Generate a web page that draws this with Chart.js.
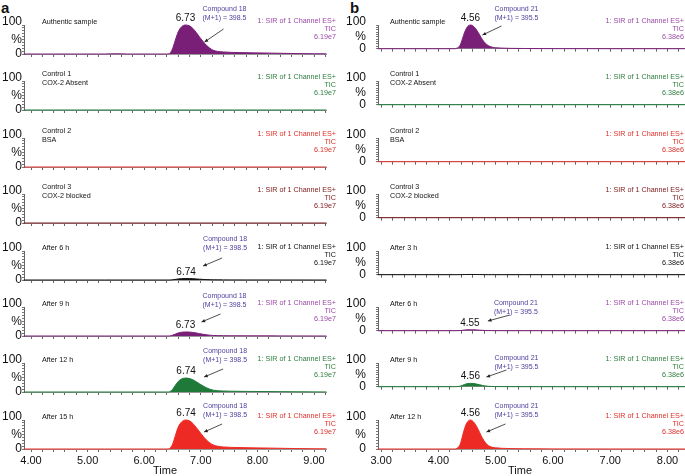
<!DOCTYPE html>
<html>
<head>
<meta charset="utf-8">
<script src="https://cdn.jsdelivr.net/npm/chart.js@4.4.1/dist/chart.umd.min.js"></script>
<style>
  html, body { margin: 0; padding: 0; background: #fff; }
  body { position: relative; width: 685px; height: 476px; overflow: hidden; font-family: "Liberation Sans", Arial, sans-serif; }
  canvas { position: absolute; }
  .t { position: absolute; white-space: nowrap; font-size: 7.2px; line-height: 9px; color: #111; }
  .r { text-align: right; line-height: 8px; }
  .c { text-align: center; transform: translateX(-50%); color: #4b3f9c; font-size: 7px; }
  .pk { position: absolute; white-space: nowrap; font-size: 10px; line-height: 10px; color: #111; transform: translateX(-50%); }
  .ttl { position: absolute; white-space: nowrap; font-size: 11px; line-height: 12px; color: #111; transform: translateX(-50%); }
  .panel { position: absolute; font-weight: bold; font-size: 15px; line-height: 15px; color: #111; }
</style>
</head>
<body>
<div class="panel" style="left:1px;top:0px">a</div>
<div class="panel" style="left:350px;top:0px">b</div>
<script>
// ---- labels ----
const rowNamesA = [['Authentic sample'], ['Control 1', 'COX-2 Absent'], ['Control 2', 'BSA'], ['Control 3', 'COX-2 blocked'],
  ['After 6 h'], ['After 9 h'], ['After 12 h'], ['After 15 h']];
const rowNamesB = [['Authentic sample'], ['Control 1', 'COX-2 Absent'], ['Control 2', 'BSA'], ['Control 3', 'COX-2 blocked'],
  ['After 3 h'], ['After 6 h'], ['After 9 h'], ['After 12 h']];
const channelLines = ['1: SIR of 1 Channel ES+', 'TIC'];
const scaleA = '6.19e7';
const scaleB = '6.38e6';
const compoundA = ['Compound 18', '(M+1) = 398.5'];
const compoundB = ['Compound 21', '(M+1) = 395.5'];
const xTitle = 'Time';
const xTickValuesA = [4, 5, 6, 7, 8, 9];
const xTickValuesB = [3, 4, 5, 6, 7, 8];
const yTickValues = [0, 50, 100];
const yTickLabels = ['0', '%', '100'];
const peakTimeA = [6.73, null, null, null, 6.74, 6.73, 6.74, 6.74];
const peakTimeB = [4.56, null, null, null, null, 4.55, 4.56, 4.56];

// ---- traces, panel a (time in min, intensity in %) ----
const timeA = [3.87, 5.30, 5.50, 5.70, 6.40, 6.45, 6.50, 6.55, 6.60, 6.66, 6.73, 6.80, 6.86, 6.92, 6.98, 7.04,
  7.10, 7.16, 7.22, 7.30, 7.40, 7.55, 7.80, 8.10, 8.40, 8.70, 9.00, 9.22];
const flatTimeA = [3.87, 9.22];
const authenticA = [0, 0, 0.8, 0, 0, 2, 18, 48, 76, 94, 100, 97, 88, 74, 58, 43, 30, 20, 13, 9, 7, 5.5, 4.5, 3.5, 2.5, 1.5, 0.8, 0.5];
const control1A = [0, 0];
const control2A = [0, 0];
const control3A = [0, 0];
const after6hA = [0, 0, 0, 0, 0, 0.1, 0.8, 2.2, 3.6, 4.6, 5, 4.8, 4.3, 3.6, 2.8, 2.1, 1.5, 1, 0.7, 0.5, 0.4, 0.3, 0.2, 0.2, 0.1, 0.1, 0, 0];
const after9hA = [0, 0, 0, 0, 0, 0.3, 2.5, 6.5, 10.5, 13, 14, 13.6, 12.3, 10.4, 8.1, 6, 4.2, 2.8, 1.8, 1.3, 1, 0.8, 0.6, 0.5, 0.3, 0.2, 0.1, 0];
const after12hA = [0, 0, 0, 0, 0, 1, 9, 23, 36, 45, 48, 46.5, 42, 35.5, 28, 21, 14.5, 9.6, 6.3, 4.3, 3.4, 2.6, 2.1, 1.6, 1.2, 0.7, 0.4, 0.2];
const after15hA = [0, 0, 0, 0, 0, 2, 16, 46, 75, 93, 100, 97, 88, 74, 59, 44, 31, 21, 14, 9.5, 7, 5.5, 4.5, 3.5, 2.5, 1.5, 0.8, 0.5];

// ---- traces, panel b ----
const timeB = [2.94, 4.28, 4.33, 4.38, 4.42, 4.46, 4.50, 4.56, 4.62, 4.67, 4.72, 4.77, 4.82, 4.87, 4.93, 5.00,
  5.10, 5.25, 5.50, 6.00, 7.00, 8.31];
const flatTimeB = [2.94, 8.31];
const authenticB = [0, 0, 3, 15, 42, 70, 90, 100, 93, 78, 58, 38, 23, 13, 7, 4, 2.5, 1.5, 0.8, 0.3, 0.1, 0];
const control1B = [0, 0];
const control2B = [0, 0];
const control3B = [0, 0];
const after3hB = [0, 0, 0, 0.2, 0.4, 0.7, 0.9, 1, 0.9, 0.8, 0.6, 0.4, 0.2, 0.1, 0.1, 0, 0, 0, 0, 0, 0, 0];
const after6hB = [0, 0, 0.1, 0.6, 1.7, 2.8, 3.6, 4, 3.7, 3.1, 2.3, 1.5, 0.9, 0.5, 0.3, 0.2, 0.1, 0, 0, 0, 0, 0];
const after9hB = [0, 0, 0.4, 2.1, 5.9, 9.8, 12.6, 14, 13, 10.9, 8.1, 5.3, 3.2, 1.8, 1, 0.6, 0.4, 0.2, 0.1, 0, 0, 0];
const after12hB = [0, 0, 3, 16, 44, 72, 91, 100, 92, 77, 57, 37, 22, 12, 6.5, 4, 2.5, 1.5, 0.8, 0.3, 0.1, 0];

// ---- styling ----
const traceColors = ['#7a1f78', '#1f7a3a', '#e0302a', '#7c1818', '#111111', '#7a1f78', '#1f7a3a', '#ee2a24'];
const textColors = ['#9a4aa6', '#2e7d3e', '#e0302a', '#7c1818', '#111111', '#9a4aa6', '#2e7d3e', '#e0302a'];

const ROW_BASE = 54, ROW_STEP = 56.4, PLOT_H = 29, CANVAS_TOP = 48, CANVAS_H = 56, PAGE_H = 476;

const panels = [
  { left: 0, width: 340, axisX: 24, axisEnd: 326, min: 3.876, max: 9.212, labelPad: 0,
    names: rowNamesA, scale: scaleA, compound: compoundA, ticks: xTickValuesA, peaks: peakTimeA,
    times: [timeA, flatTimeA, flatTimeA, flatTimeA, timeA, timeA, timeA, timeA],
    values: [authenticA, control1A, control2A, control3A, after6hA, after9hA, after12hA, after15hA],
    nameX: 42, rightX: 336, compDx: 39, titleX: 165,
    arrows: [[38, 4, 19, 17], null, null, null, [36, 7, 17, 15], [35, 7, 16, 15], [37, 6, 18, 14], [36, 4, 18, 12]],
    compY: [-17, 0, 0, 0, -13, -12, -13, -15] },
  { left: 340, width: 345, axisX: 378, axisEnd: 677, min: 2.946, max: 8.305, labelPad: 10,
    names: rowNamesB, scale: scaleB, compound: compoundB, ticks: xTickValuesB, peaks: peakTimeB,
    times: [timeB, flatTimeB, flatTimeB, flatTimeB, timeB, timeB, timeB, timeB],
    values: [authenticB, control1B, control2B, control3B, after3hB, after6hB, after9hB, after12hB],
    nameX: 390, rightX: 684, compDx: 46, titleX: 520,
    arrows: [[31, 1, 12, 10], null, null, null, null, [40, 8, 18, 14], [36, 7, 16, 14], [35, 4, 16, 12]],
    compY: [-17, 0, 0, 0, 0, -5, -6, -15] }
];

Chart.defaults.font.family = '"Liberation Sans", Arial, sans-serif';
Chart.defaults.color = '#111';
Chart.defaults.animation = false;

function addText(lines, cls, style) {
  const d = document.createElement('div');
  d.className = 't ' + cls;
  d.innerHTML = lines.join('<br>');
  Object.assign(d.style, style);
  document.body.appendChild(d);
  return d;
}

function drawRow(p, i) {
  const last = i === 7;
  const base = Math.round(ROW_BASE + ROW_STEP * i);
  const top = base - CANVAS_TOP;
  const h = last ? PAGE_H - top : CANVAS_H;
  const canvas = document.createElement('canvas');
  canvas.width = p.width; canvas.height = h;
  canvas.style.left = p.left + 'px'; canvas.style.top = top + 'px';
  canvas.style.width = p.width + 'px'; canvas.style.height = h + 'px';
  document.body.appendChild(canvas);

  const pts = p.times[i].map((t, k) => ({ x: t, y: p.values[i][k] }));
  const color = traceColors[i];
  const peak = p.peaks[i];
  const arrow = p.arrows[i];

  const arrowPlugin = {
    id: 'arrow' + i,
    afterDatasetsDraw(chart) {
      if (!arrow) return;
      const ctx = chart.ctx;
      const px = chart.scales.x.getPixelForValue(peak);
      const T = chart.scales.y.getPixelForValue(100);
      const x1 = px + arrow[0], y1 = T + arrow[1], x2 = px + arrow[2], y2 = T + arrow[3];
      const ang = Math.atan2(y2 - y1, x2 - x1);
      ctx.save();
      ctx.strokeStyle = '#222'; ctx.fillStyle = '#222'; ctx.lineWidth = 0.8;
      ctx.beginPath(); ctx.moveTo(x1, y1); ctx.lineTo(x2, y2); ctx.stroke();
      ctx.beginPath();
      ctx.moveTo(x2, y2);
      ctx.lineTo(x2 - 4 * Math.cos(ang - 0.45), y2 - 4 * Math.sin(ang - 0.45));
      ctx.lineTo(x2 - 4 * Math.cos(ang + 0.45), y2 - 4 * Math.sin(ang + 0.45));
      ctx.closePath(); ctx.fill();
      ctx.restore();
    }
  };

  const chart = new Chart(canvas, {
    type: 'line',
    data: { datasets: [{
      data: pts, borderColor: color, backgroundColor: color, borderWidth: 1,
      fill: 'origin', pointRadius: 0, cubicInterpolationMode: 'monotone', clip: 2
    }] },
    options: {
      responsive: false,
      layout: { padding: { top: CANVAS_TOP - PLOT_H, right: p.width - p.axisEnd, left: 0, bottom: 0 } },
      plugins: { legend: { display: false }, tooltip: { enabled: false } },
      scales: {
        x: {
          type: 'linear', min: p.min, max: p.max,
          afterBuildTicks: s => {
            const out = [];
            for (let v = Math.ceil(p.min * 5) / 5; v <= p.max + 1e-9; v += 0.2) out.push({ value: Math.round(v * 10) / 10 });
            s.ticks = out;
          },
          afterFit: s => { s.height = h - CANVAS_TOP; },
          ticks: {
            autoSkip: false, maxRotation: 0, padding: 2, font: { size: 11 },
            callback: v => (last && p.ticks.includes(v)) ? v.toFixed(2) : ''
          },
          grid: { drawOnChartArea: false, tickLength: 3, color: '#666' },
          border: { color: '#999' }
        },
        y: {
          min: 0, max: 100,
          afterBuildTicks: s => {
            const out = [];
            for (let v = 0; v <= 100; v += 10) out.push({ value: v });
            s.ticks = out;
          },
          afterFit: s => { s.width = p.axisX - p.left; },
          ticks: {
            autoSkip: false, padding: p.labelPad, font: { size: 12, lineHeight: 0.55 },
            // the top label sits a little above its tick, as in the original plot
            callback: v => { const k = yTickValues.indexOf(v); return k < 0 ? '' : (v === 100 ? [yTickLabels[k], ''] : yTickLabels[k]); }
          },
          grid: { drawOnChartArea: false, tickLength: 2, color: '#777' },
          border: { color: '#666' }
        }
      }
    },
    plugins: [arrowPlugin]
  });

  // texts
  const T = base - PLOT_H;
  const names = p.names[i];
  addText(names, '', { left: p.nameX + 'px', top: (names.length > 1 ? T - 12 : T - 8) + 'px' });
  addText([channelLines[0], channelLines[1], p.scale], 'r', {
    right: (685 - p.rightX) + 'px', top: (T - 8) + 'px', color: textColors[i]
  });

  if (peak != null) {
    const px = p.left + chart.scales.x.getPixelForValue(peak);
    const py = top + chart.scales.y.getPixelForValue(Math.max(...p.values[i]));
    const pk = document.createElement('div');
    pk.className = 'pk';
    pk.textContent = peak.toFixed(2);
    pk.style.left = px + 'px';
    pk.style.top = (py - 12) + 'px';
    document.body.appendChild(pk);
    if (arrow) {
      addText(p.compound, 'c', { left: (px + p.compDx) + 'px', top: (T + p.compY[i] - 4.5) + 'px' });
    }
  }

  if (last) {
    const tt = document.createElement('div');
    tt.className = 'ttl';
    tt.textContent = xTitle;
    tt.style.left = p.titleX + 'px';
    tt.style.top = '464px';
    document.body.appendChild(tt);
  }
}

panels.forEach(p => { for (let i = 0; i < 8; i++) drawRow(p, i); });
</script>
</body>
</html>
